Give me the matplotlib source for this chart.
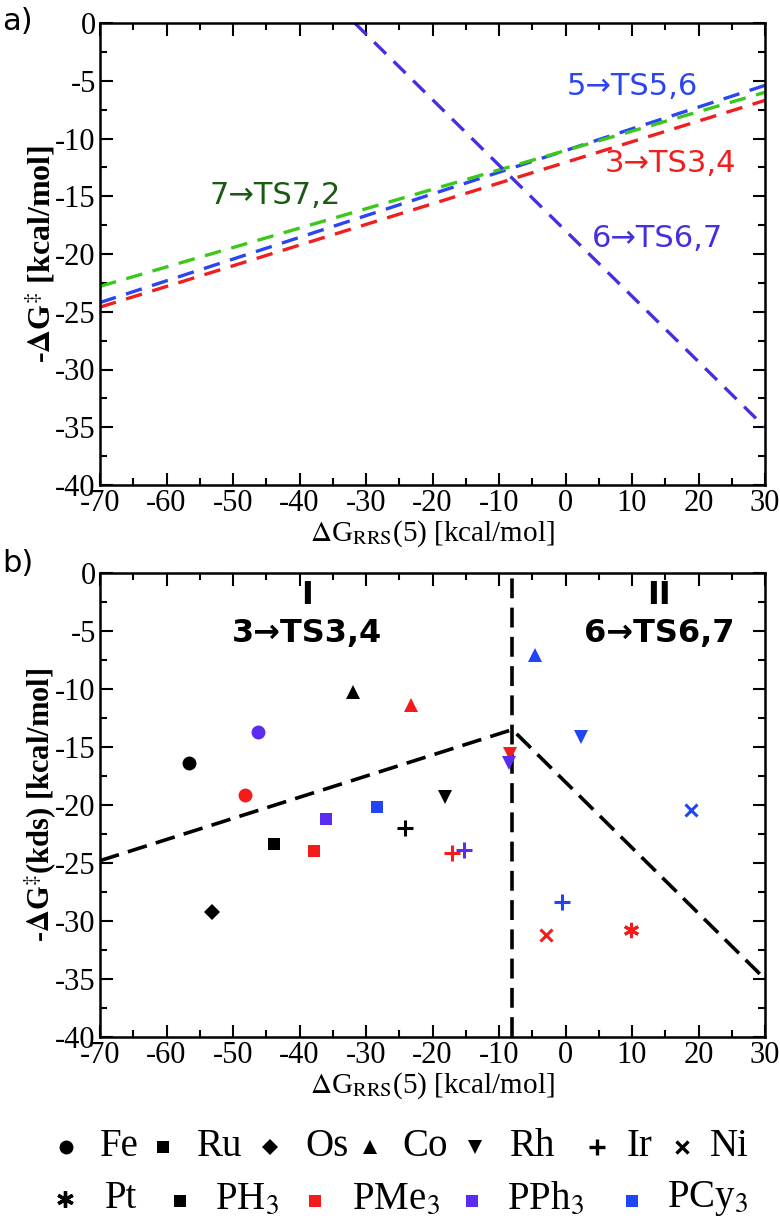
import matplotlib
matplotlib.use("Agg")
import matplotlib.pyplot as plt
from matplotlib.ticker import MultipleLocator

plt.rcParams["axes.unicode_minus"] = False
plt.rcParams["mathtext.fontset"] = "stix"

# ---- data ----
# panel a: linear scaling lines, endpoints (x, y)
line_names = ["5→TS5,6", "7→TS7,2", "3→TS3,4", "6→TS6,7"]
line_x = [[-70, 30], [-70, 30], [-70, 30], [-31.7, 30]]
line_y = [[-24.2, -5.4], [-22.8, -6.0], [-24.6, -6.7], [0.0, -35.0]]
line_colors = ["#2b45f0", "#3ac81a", "#f01e1e", "#4430e0"]
label_colors = ["#2b45f0", "#1a5a12", "#f01e1e", "#4430e0"]
label_x = [10.1, -43.7, 15.7, 13.8]
label_y = [-5.5, -14.9, -12.2, -18.7]

# panel b: catalysts (metal marker, ligand colour)
pt_x = [-56.6, -48.2, -46.2, -53.2, -43.8, -37.8, -36.0, -28.3,
        -31.9, -23.2, -4.6, -18.1, -8.3, -8.5, 2.3,
        -24.1, -17.0, -15.3, -0.6, -2.9, 18.9, 9.9]
pt_y = [-16.4, -19.1, -13.7, -29.2, -23.4, -24.0, -21.2, -20.2,
        -10.3, -11.4, -7.1, -19.3, -15.6, -16.4, -14.1,
        -22.0, -24.1, -23.9, -28.4, -31.2, -20.4, -30.8]
pt_metal = ["Fe", "Fe", "Fe", "Os", "Ru", "Ru", "Ru", "Ru",
            "Co", "Co", "Co", "Rh", "Rh", "Rh", "Rh",
            "Ir", "Ir", "Ir", "Ir", "Ni", "Ni", "Pt"]
pt_ligand = ["PH3", "PMe3", "PPh3", "PH3", "PH3", "PMe3", "PPh3", "PCy3",
             "PH3", "PMe3", "PCy3", "PH3", "PMe3", "PPh3", "PCy3",
             "PH3", "PMe3", "PPh3", "PCy3", "PMe3", "PCy3", "PMe3"]

# volcano (kds boundary)
volcano_x = [-70, -8.0, 30]
volcano_y = [-24.8, -13.5, -35.0]
split_x = -8.0

metals = ["Fe", "Ru", "Os", "Co", "Rh", "Ir", "Ni", "Pt"]
metal_markers = {"Fe": "o", "Ru": "s", "Os": "D", "Co": "^", "Rh": "v",
                 "Ir": "+", "Ni": "x", "Pt": (6, 2, 0)}
metal_sizes = {"Fe": 10, "Ru": 9, "Os": 8, "Co": 10, "Rh": 10,
               "Ir": 11, "Ni": 8, "Pt": 11}
ligands = ["PH3", "PMe3", "PPh3", "PCy3"]
ligand_labels = ["PH$_3$", "PMe$_3$", "PPh$_3$", "PCy$_3$"]
ligand_colors = {"PH3": "black", "PMe3": "#f51b1b", "PPh3": "#5a2cf0",
                 "PCy3": "#1f45f5"}

serif = "Liberation Serif"
W, H = 780, 1229
fig = plt.figure(figsize=(W / 100, H / 100), dpi=100)


def style_axes(ax):
    ax.set_xlim(-70, 30)
    ax.set_ylim(-40, 0)
    ax.xaxis.set_major_locator(MultipleLocator(10))
    ax.xaxis.set_minor_locator(MultipleLocator(5))
    ax.yaxis.set_major_locator(MultipleLocator(5))
    ax.yaxis.set_minor_locator(MultipleLocator(2.5))
    ax.tick_params(which="both", direction="in", top=True, right=True,
                   width=1.5)
    ax.tick_params(which="major", length=9, labelsize=22, pad=3)
    ax.tick_params(which="minor", length=5)
    for lab in ax.get_xticklabels() + ax.get_yticklabels():
        lab.set_fontfamily(serif)
    for s in ax.spines.values():
        s.set_linewidth(1.8)
    ax.set_xlabel(r"$\Delta$G$_{\rm RRS}$(5) [kcal/mol]", fontsize=21,
                  family=serif, labelpad=0)


# ---- panel a ----
ax1 = fig.add_axes([100 / W, 1 - 485 / H, 665 / W, 462 / H])
for i in range(len(line_names)):
    ax1.plot(line_x[i], line_y[i], color=line_colors[i], lw=2.4,
             dashes=(5, 3.2))
    ax1.text(label_x[i], label_y[i], line_names[i], color=label_colors[i],
             fontsize=22, ha="center", va="center", family="DejaVu Sans")
style_axes(ax1)
ax1.set_ylabel(r"-$\mathbf{\Delta}$G$^{‡}$ [kcal/mol]", fontsize=23,
               family=serif, fontweight="bold", labelpad=-2)
fig.text(2 / W, 1 - 22 / H, "a)", fontsize=22, va="center")

# ---- panel b ----
ax2 = fig.add_axes([100 / W, 1 - 1037 / H, 665 / W, 464 / H])
ax2.plot(volcano_x, volcano_y, color="black", lw=2.6, dashes=(5.5, 2.6))
ax2.axvline(split_x, color="black", lw=2.6, dashes=(5.5, 2.6))
for x, y, m, l in zip(pt_x, pt_y, pt_metal, pt_ligand):
    mk = metal_markers[m]
    thin = m in ("Ir", "Ni", "Pt")
    ax2.plot(x, y, marker=mk, ms=metal_sizes[m], color=ligand_colors[l],
             mew=2.2 if thin else 0, linestyle="none", zorder=3)
ax2.text(-38.8, -1.9, "I", fontsize=23, fontweight="bold", ha="center",
         va="center")
ax2.text(-38.8, -5.2, "3→TS3,4", fontsize=23, fontweight="bold",
         ha="center", va="center")
ax2.text(14.1, -1.9, "II", fontsize=23, fontweight="bold", ha="center",
         va="center")
ax2.text(14.1, -5.2, "6→TS6,7", fontsize=23, fontweight="bold",
         ha="center", va="center")
style_axes(ax2)
ax2.set_ylabel(r"-$\mathbf{\Delta}$G$^{‡}$(kds) [kcal/mol]", fontsize=22,
               family=serif, fontweight="bold", labelpad=-2)
fig.text(2 / W, 1 - 563 / H, "b)", fontsize=22, va="center")

# ---- legend (drawn in pixel coordinates) ----
axl = fig.add_axes([0, 0, 1, 1])
axl.set_xlim(0, W)
axl.set_ylim(H, 0)
axl.axis("off")

row1_mx = [66, 163, 270, 370, 475, 597, 682]
row1_tx = [100, 197, 305, 402, 510, 627, 710]
row1_y = 1147
for mname, mx, tx in zip(metals[:7], row1_mx, row1_tx):
    thin = mname in ("Ir", "Ni")
    axl.plot(mx, row1_y, marker=metal_markers[mname],
             ms=metal_sizes[mname], color="black",
             mew=2.4 if thin else 0, linestyle="none")
    axl.text(tx, row1_y, mname, fontsize=28, family=serif, va="center")

row2_y = 1199
axl.plot(65, row2_y, marker=metal_markers["Pt"], ms=12, color="black",
         mew=2.4, linestyle="none")
axl.text(105, row2_y, "Pt", fontsize=28, family=serif, va="center")
lig_mx = [180, 315, 472, 632]
lig_tx = [215, 352, 507, 667]
for lg, lab, mx, tx in zip(ligands, ligand_labels, lig_mx, lig_tx):
    axl.plot(mx, row2_y + 2, marker="s", ms=9, color=ligand_colors[lg],
             mew=0, linestyle="none")
    axl.text(tx, row2_y, lab, fontsize=28, family=serif, va="center")

fig.savefig("out.png", dpi=100)
